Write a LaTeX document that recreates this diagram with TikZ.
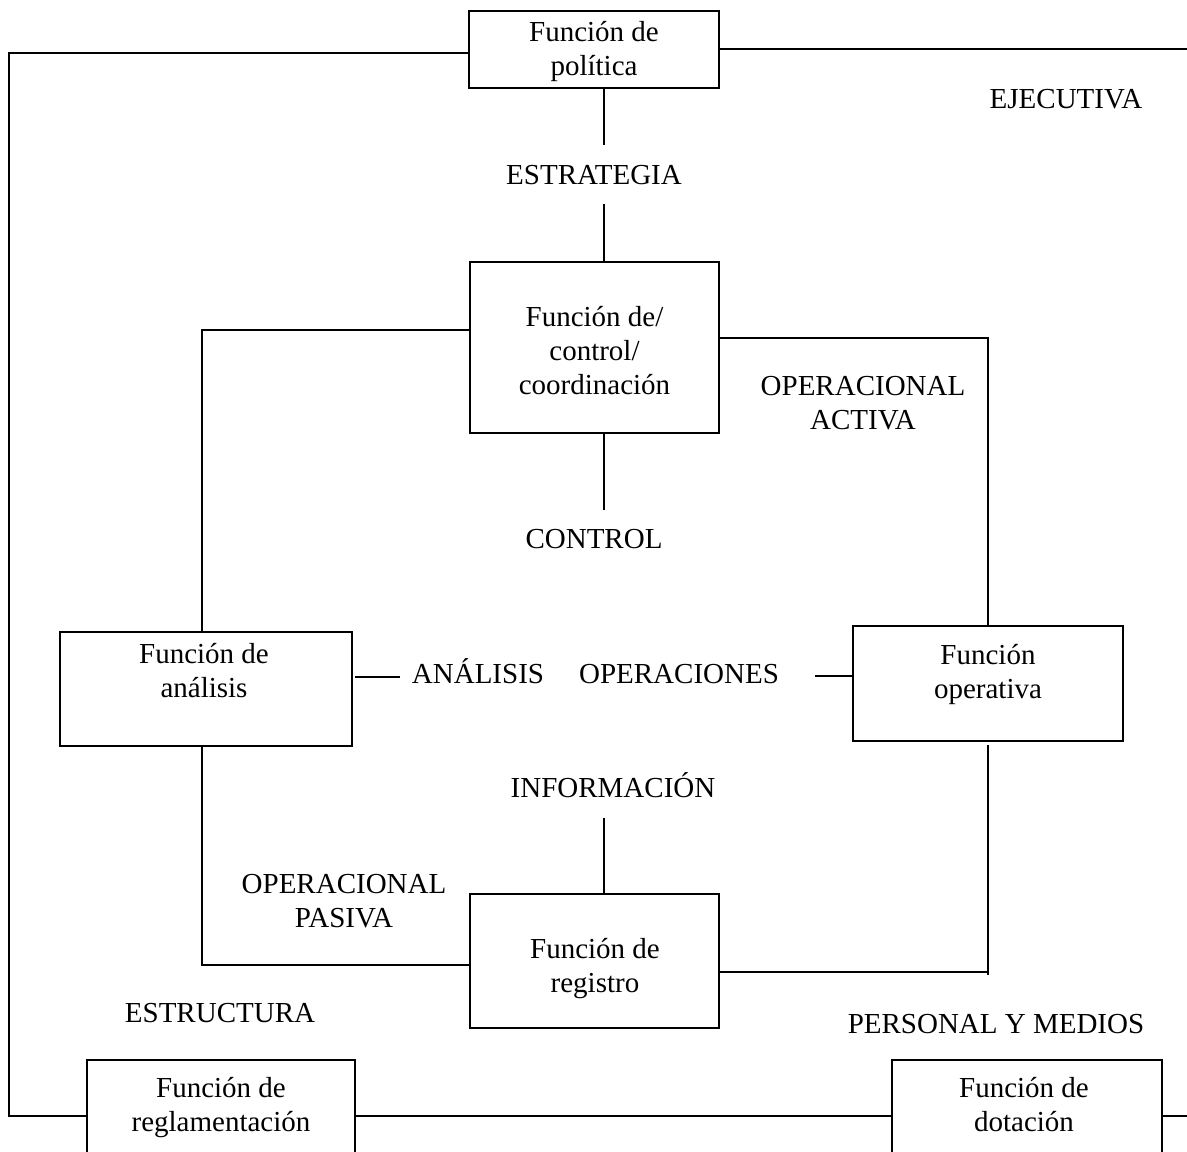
\documentclass[tikz,border=0pt]{standalone}
\usepackage{fontspec}
\setmainfont{Liberation Serif}
\begin{document}
\begin{tikzpicture}[x=1pt,y=-1pt,
  box/.style={draw, line width=1.6pt, inner sep=0pt, outer sep=0pt},
  conn/.style={draw, line width=2.6pt},
  txt/.style={anchor=base, align=center, inner sep=0pt, font=\fontsize{29}{34}\selectfont}]
\path[use as bounding box] (0,0) rectangle (1187,1152);
\clip (0,0) rectangle (1187,1152);

% boxes
\node[box, minimum width=250pt, minimum height=77pt]  (pol)  at (594,49.5) {};
\node[box, minimum width=249pt, minimum height=171pt] (ctrl) at (594.5,347.5) {};
\node[box, minimum width=292pt, minimum height=114pt] (ana)  at (206,689) {};
\node[box, minimum width=270pt, minimum height=115pt] (oper) at (988,683.5) {};
\node[box, minimum width=249pt, minimum height=134pt] (reg)  at (594.5,961) {};
\node[box, minimum width=268pt, minimum height=120pt] (regl) at (221,1120) {};
\node[box, minimum width=270pt, minimum height=120pt] (dot)  at (1027,1120) {};

% box texts (anchor = baseline of last line)
\node[txt] (polT)  at (594,75)    {Función de\\política};
\node[txt] (ctrlT) at (594.5,394) {Función de/\\control/\\coordinación};
\node[txt] (anaT)  at (204,697)   {Función de\\análisis};
\node[txt] (operT) at (988,698)   {Función\\operativa};
\node[txt] (regT)  at (595,992)   {Función de\\registro};
\node[txt] (reglT) at (221,1131)  {Función de\\reglamentación};
\node[txt] (dotT)  at (1024,1131) {Función de\\dotación};

% free labels
\node[txt] (ejec)  at (1066,108) {EJECUTIVA};
\node[txt] (estr)  at (594,184)  {ESTRATEGIA};
\node[txt] (ctl)   at (594,548)  {CONTROL};
\node[txt] (opact) at (863,429)  {OPERACIONAL\\ACTIVA};
\node[txt] (anal)  at (478,683)  {ANÁLISIS};
\node[txt] (opers) at (679,683)  {OPERACIONES};
\node[txt] (info)  at (613,797)  {INFORMACIÓN};
\node[txt] (oppas) at (344,927)  {OPERACIONAL\\PASIVA};
\node[txt] (estru) at (220,1022) {ESTRUCTURA};
\node[txt] (pers)  at (996,1033) {PERSONAL Y MEDIOS};

% coordinates
\coordinate (tl) at (9,53);
\coordinate (tr) at (1187,49);
\coordinate (bl) at (9,1116);
\coordinate (br) at (1187,1116);
\coordinate (vx) at (604,0);
\coordinate (estrA) at (604,145);
\coordinate (estrB) at (604,204);
\coordinate (ctlA) at (604,510);
\coordinate (infoA) at (604,818);
\coordinate (cl) at (202,330);
\coordinate (cr) at (988,338);
\coordinate (pl) at (202,965);
\coordinate (pr) at (988,972);
\coordinate (anaE) at (400,677);
\coordinate (opE) at (815,676);

% outer frame
\draw[conn] (pol.west |- tl) -- (tl) -- (bl) -- (bl -| regl.west);
\draw[conn] (pol.east |- tr) -- (tr);
\draw[conn] (regl.east |- bl) -- (bl -| dot.west);
\draw[conn] (dot.east |- br) -- (br);

% vertical axis
\draw[conn] (pol.south -| vx) -- (estrA);
\draw[conn] (estrB) -- (ctrl.north -| vx);
\draw[conn] (ctrl.south -| vx) -- (ctlA);
\draw[conn] (infoA) -- (reg.north -| vx);

% inner loop
\draw[conn] (ctrl.west |- cl) -- (cl) -- (cl |- ana.north);
\draw[conn] (ctrl.east |- cr) -- (cr) -- (cr |- oper.north);
\draw[conn] (pl |- ana.south) -- (pl) -- (pl -| reg.west);
\draw[conn] ([yshift=-4pt]pr |- oper.south) -- ([yshift=-3pt]pr);
\draw[conn] (pr) -- (pr -| reg.east);

% middle stubs
\draw[conn] ([xshift=3pt]ana.east |- anaE) -- (anaE);
\draw[conn] (opE) -- (oper.west |- opE);
\end{tikzpicture}
\end{document}
